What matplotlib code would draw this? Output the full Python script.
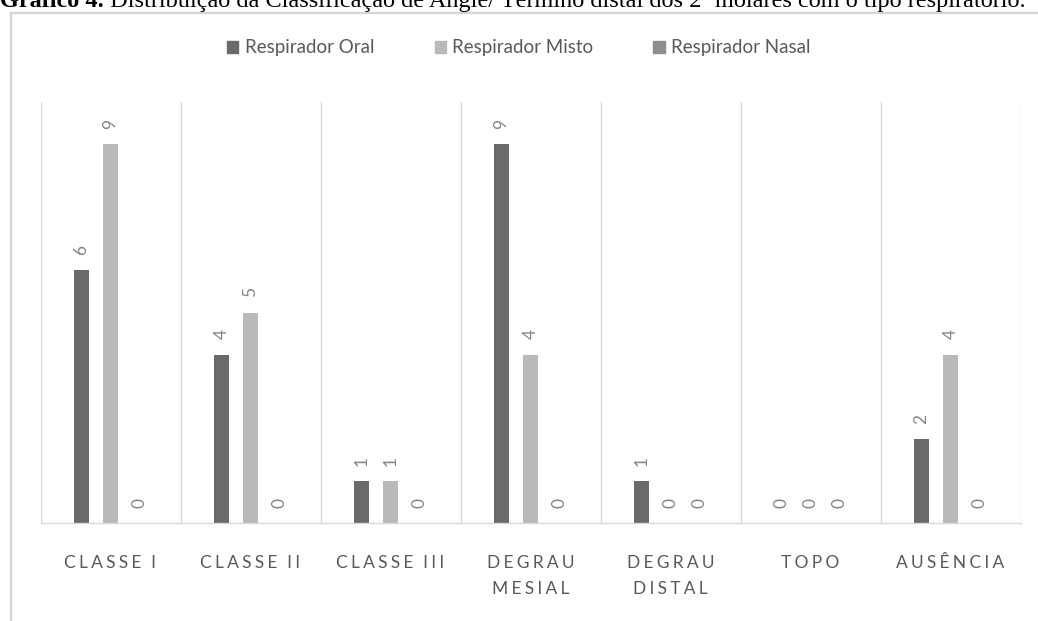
import matplotlib
matplotlib.use("Agg")
import matplotlib.pyplot as plt
import numpy as np
from matplotlib.lines import Line2D

# Data
categories = ["CLASSE I", "CLASSE II", "CLASSE III", "DEGRAU\nMESIAL",
              "DEGRAU\nDISTAL", "TOPO", "AUSÊNCIA"]
series_names = ["Respirador Oral", "Respirador Misto", "Respirador Nasal"]
oral = [6, 4, 1, 9, 1, 0, 2]
misto = [9, 5, 1, 4, 0, 0, 4]
nasal = [0, 0, 0, 0, 0, 0, 0]
caption_bold = "Gráfico 4."
caption_rest = " Distribuição da Classificação de Angle/ Término distal dos 2º molares com o tipo respiratório."

colors = ["#6a6a6a", "#b9b9b9", "#8e8e8e"]
W, H = 1038, 621
plt.rcParams["font.family"] = ["Lato", "DejaVu Sans"]

fig = plt.figure(figsize=(W / 100, H / 100), dpi=100)
fig.patch.set_facecolor("white")

# Caption line (top of page)
cap_size = 17.5
t1 = fig.text(0.0, 1 - 7 / H, caption_bold, fontsize=cap_size, fontweight="bold",
              family=["Liberation Serif"], va="baseline", ha="left", color="black")
fig.canvas.draw()
bb = t1.get_window_extent()
fig.text(bb.x1 / W, 1 - 7 / H, caption_rest, fontsize=cap_size,
         family=["Liberation Serif"], va="baseline", ha="left", color="black")

# Chart frame
frame_col = "#d4d4d4"
fig.add_artist(Line2D([10.5 / W, 10.5 / W], [0, 1 - 12.5 / H], transform=fig.transFigure,
                      color=frame_col, lw=1.6))
fig.add_artist(Line2D([10.5 / W, 1.0], [1 - 12.5 / H, 1 - 12.5 / H], transform=fig.transFigure,
                      color=frame_col, lw=1.6))

# Plot area
left, right, bottom, top = 40.5, 1020.5, 523, 102
ax = fig.add_axes([left / W, (H - bottom) / H, (right - left) / W, (bottom - top) / H])
ax.set_xlim(-0.5, len(categories) - 0.5)
ax.set_ylim(0, 10)
for s in ["left", "right", "top"]:
    ax.spines[s].set_visible(False)
ax.spines["bottom"].set_color("#d9d9d9")
ax.spines["bottom"].set_linewidth(1.0)
for xb in np.arange(-0.5, len(categories) + 0.5, 1.0):
    ax.axvline(xb, color="#d9d9d9", lw=1.0, zorder=0)

x = np.arange(len(categories))
bw = 15 / 140
off = 29 / 140
all_series = [oral, misto, nasal]
for i, (vals, c, name) in enumerate(zip(all_series, colors, series_names)):
    xs = x + (i - 1) * off
    ax.bar(xs, vals, width=bw, color=c, label=name, zorder=2)
    for xi, v in zip(xs, vals):
        ax.annotate(str(v), (xi, v), xytext=(0, 11), textcoords="offset points",
                    rotation=90, ha="center", va="bottom", fontsize=12.5,
                    color="#858585")

ax.set_yticks([])
ax.set_xticks(x)
gap = "\u2009\u200a"
spaced = ["\n".join((gap * 3).join(gap.join(w) for w in line.split(" "))
                    for line in c.split("\n"))
          for c in categories]
ax.set_xticklabels(spaced, fontsize=12.5, color="#595959", linespacing=1.75)
ax.tick_params(axis="x", length=0, pad=23)

handles = [plt.Rectangle((0, 0), 1, 1, color=c) for c in colors]
fig.legend(handles, series_names, loc="center", bbox_to_anchor=(0.5, 1 - 48 / H),
           ncol=3, frameon=False, fontsize=13.5, handlelength=0.6, handleheight=0.6,
           handletextpad=0.35, columnspacing=3.2, labelcolor="#595959")

fig.savefig("out.png", dpi=100)
